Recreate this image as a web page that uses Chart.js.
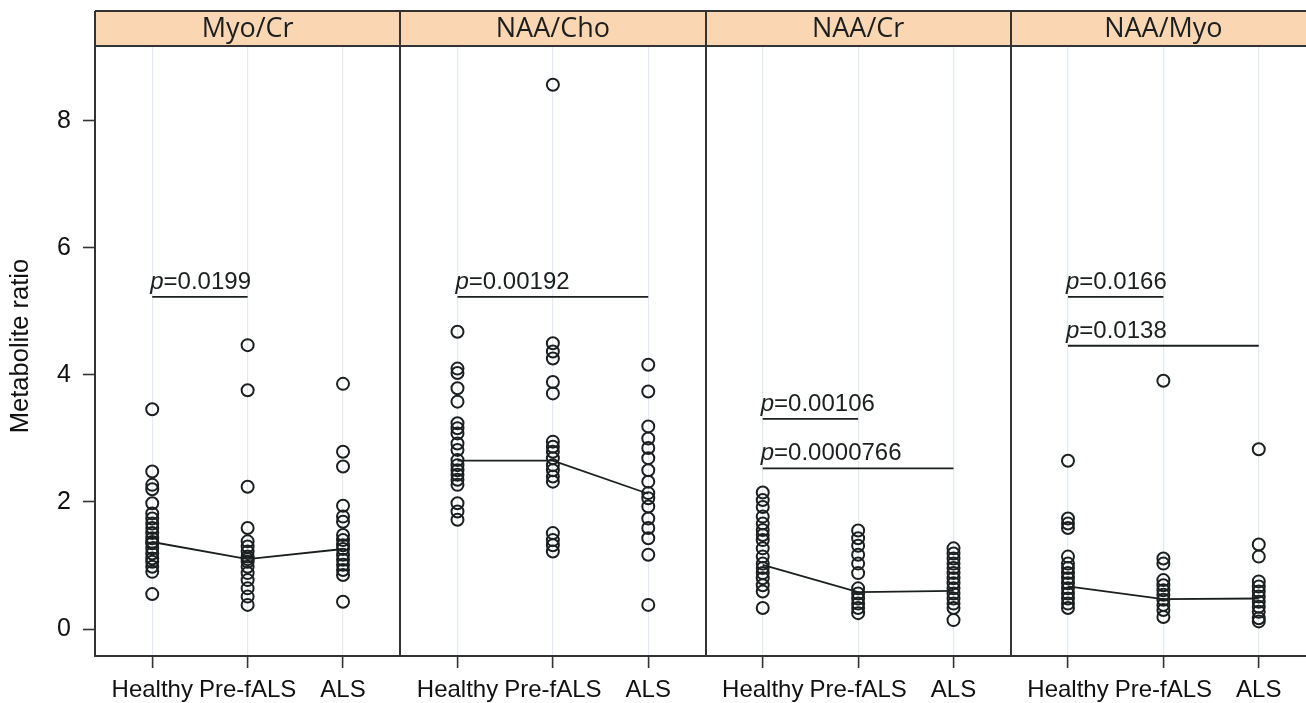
<!DOCTYPE html>
<html><head><meta charset="utf-8">
<script src="https://cdn.jsdelivr.net/npm/chart.js@4/dist/chart.umd.min.js"></script>
<style>
html,body{margin:0;padding:0;background:#fff;overflow:hidden;width:1306px;height:703px}
#wrap{position:absolute;left:0;top:0;width:1306px;height:703px;overflow:hidden}
#c{position:absolute;left:0;top:0}
</style>
</head><body><div id="wrap"><canvas id="c" width="1324" height="703"></canvas></div>
<script>
// ---------- data ----------
const panelTitles = ['Myo/Cr', 'NAA/Cho', 'NAA/Cr', 'NAA/Myo'];
const groups = ['Healthy', 'Pre-fALS', 'ALS'];
const yTicks = [0, 2, 4, 6, 8];

const myoCrHealthy = [3.46, 2.48, 2.27, 2.20, 1.98, 1.82, 1.74, 1.66, 1.59, 1.51, 1.43, 1.37, 1.35, 1.27, 1.19, 1.11, 1.06, 0.98, 0.90, 0.55];
const myoCrPre     = [4.47, 3.76, 2.24, 1.59, 1.38, 1.30, 1.22, 1.14, 1.10, 1.06, 0.98, 0.88, 0.77, 0.64, 0.51, 0.38];
const myoCrALS     = [3.86, 2.79, 2.56, 1.94, 1.77, 1.69, 1.48, 1.40, 1.32, 1.26, 1.17, 1.09, 1.01, 0.93, 0.85, 0.43];
const myoCrMedian  = [1.37, 1.10, 1.26];

const naaChoHealthy = [4.68, 4.10, 4.03, 3.79, 3.58, 3.24, 3.16, 3.08, 2.92, 2.82, 2.66, 2.58, 2.50, 2.43, 2.35, 2.27, 1.98, 1.85, 1.72];
const naaChoPre     = [8.57, 4.50, 4.37, 4.26, 3.89, 3.71, 2.95, 2.87, 2.79, 2.69, 2.58, 2.50, 2.40, 2.32, 1.51, 1.40, 1.32, 1.22];
const naaChoALS     = [4.16, 3.74, 3.19, 3.00, 2.85, 2.69, 2.50, 2.32, 2.14, 2.06, 1.93, 1.74, 1.59, 1.43, 1.17, 0.38];
const naaChoMedian  = [2.65, 2.65, 2.13];

const naaCrHealthy = [2.15, 2.03, 1.92, 1.77, 1.66, 1.56, 1.48, 1.40, 1.27, 1.14, 1.03, 0.96, 0.88, 0.80, 0.69, 0.59, 0.33];
const naaCrPre     = [1.55, 1.43, 1.31, 1.17, 1.03, 0.88, 0.64, 0.56, 0.48, 0.40, 0.33, 0.25];
const naaCrALS     = [1.27, 1.19, 1.11, 1.03, 0.96, 0.88, 0.80, 0.72, 0.64, 0.56, 0.48, 0.40, 0.33, 0.14];
const naaCrMedian  = [1.01, 0.58, 0.60];

const naaMyoHealthy = [2.65, 1.74, 1.66, 1.59, 1.14, 1.03, 0.96, 0.88, 0.80, 0.72, 0.64, 0.56, 0.48, 0.40, 0.33];
const naaMyoPre     = [3.91, 1.11, 1.03, 0.77, 0.69, 0.61, 0.54, 0.46, 0.38, 0.30, 0.19];
const naaMyoALS     = [2.83, 1.33, 1.14, 0.75, 0.67, 0.59, 0.51, 0.43, 0.35, 0.27, 0.17, 0.12];
const naaMyoMedian  = [0.67, 0.47, 0.48];

// p-value annotations
const pPanel = [0, 1, 2, 2, 3, 3];
const pFrom  = [0, 0, 0, 0, 0, 0];
const pTo    = [1, 2, 1, 2, 1, 2];
const pLevel = [5.23, 5.23, 3.31, 2.53, 5.23, 4.46];
const pText  = ['0.0199', '0.00192', '0.00106', '0.0000766', '0.0166', '0.0138'];

// ---------- build ----------
const FONT = "'Liberation Sans', Arial, sans-serif";
const INK = '#1b1f20';
const HEADER = '#fad6b3';
const panelGroups = [
  [myoCrHealthy, myoCrPre, myoCrALS],
  [naaChoHealthy, naaChoPre, naaChoALS],
  [naaCrHealthy, naaCrPre, naaCrALS],
  [naaMyoHealthy, naaMyoPre, naaMyoALS]
];
const panelMedians = [myoCrMedian, naaChoMedian, naaCrMedian, naaMyoMedian];

const datasets = [];
panelGroups.forEach((grp, p) => {
  grp.forEach((vals, g) => {
    datasets.push({
      type: 'line', showLine: false, xAxisID: 'x' + p, yAxisID: 'y',
      data: vals.map(v => ({x: g, y: v})),
      pointRadius: 6, pointBorderWidth: 2, pointBorderColor: INK,
      pointBackgroundColor: 'rgba(0,0,0,0)', borderColor: INK
    });
  });
  datasets.push({
    type: 'line', xAxisID: 'x' + p, yAxisID: 'y',
    data: panelMedians[p].map((v, g) => ({x: g, y: v})),
    borderColor: INK, borderWidth: 1.8, pointRadius: 0, tension: 0
  });
});
pPanel.forEach((p, i) => {
  datasets.push({
    type: 'line', xAxisID: 'x' + p, yAxisID: 'y',
    data: [{x: pFrom[i], y: pLevel[i]}, {x: pTo[i], y: pLevel[i]}],
    borderColor: INK, borderWidth: 1.8, pointRadius: 0
  });
});

const scales = {
  y: {
    type: 'linear', position: 'left', min: -0.425, max: 9.18,
    afterBuildTicks: s => { s.ticks = yTicks.map(v => ({value: v})); },
    afterFit: s => { s.width = 95; },
    grid: {drawOnChartArea: false, drawTicks: true, tickLength: 12, tickColor: '#333', tickWidth: 1.6},
    border: {display: true, color: '#333', width: 2},
    ticks: {font: {family: FONT, size: 25}, color: '#111', padding: 12}
  }
};
panelTitles.forEach((t, p) => {
  scales['x' + p] = {
    type: 'linear', position: 'bottom', stack: 'panels', stackWeight: 1,
    min: -0.6, max: 2.6,
    afterBuildTicks: s => { s.ticks = groups.map((g, i) => ({value: i})); },
    afterFit: s => { s.height = 47; },
    grid: {color: '#e4eaf0', lineWidth: 1.2, drawTicks: true, tickLength: 12, tickColor: '#333', tickWidth: 1.6},
    border: {display: true, color: '#333', width: 2},
    ticks: {font: {family: FONT, size: 24}, color: '#111', padding: 8, maxRotation: 0, autoSkip: false,
            callback: v => groups[v]}
  };
});

const framePlugin = {
  id: 'frame',
  afterDatasetsDraw(chart) {
    const ctx = chart.ctx, ys = chart.scales.y;
    ctx.save();
    ctx.fillStyle = INK;
    ctx.textBaseline = 'alphabetic';
    ctx.textAlign = 'left';
    pPanel.forEach((p, i) => {
      const xs = chart.scales['x' + p];
      const x0 = xs.getPixelForValue(pFrom[i]) - 2;
      const y0 = ys.getPixelForValue(pLevel[i]) - 8;
      ctx.font = 'italic 24px ' + FONT;
      ctx.fillText('p', x0, y0);
      const w = ctx.measureText('p').width;
      ctx.font = '24px ' + FONT;
      ctx.fillText('=' + pText[i], x0 + w, y0);
    });
    ctx.restore();
  },
  afterDraw(chart) {
    const ctx = chart.ctx, ca = chart.chartArea;
    const top = 11;
    ctx.save();
    ctx.fillStyle = HEADER;
    ctx.fillRect(ca.left, top, ca.right - ca.left, ca.top - top);
    ctx.strokeStyle = '#333';
    ctx.lineWidth = 2;
    ctx.beginPath();
    ctx.moveTo(ca.left, top); ctx.lineTo(ca.right, top);
    ctx.moveTo(ca.left, ca.top); ctx.lineTo(ca.right, ca.top);
    ctx.moveTo(ca.left, top); ctx.lineTo(ca.left, ca.bottom);
    ctx.moveTo(ca.right, top); ctx.lineTo(ca.right, ca.bottom);
    for (let p = 1; p < panelTitles.length; p++) {
      const x = Math.round(chart.scales['x' + p].left);
      ctx.moveTo(x, top); ctx.lineTo(x, ca.bottom);
    }
    ctx.stroke();
    ctx.fillStyle = INK;
    ctx.font = "27px 'Open Sans', sans-serif";
    ctx.textAlign = 'center';
    ctx.textBaseline = 'middle';
    panelTitles.forEach((t, p) => {
      const s = chart.scales['x' + p];
      ctx.fillText(t, (s.left + s.right) / 2, (top + ca.top) / 2 + 1);
    });
    // y axis title
    ctx.translate(21, (ca.top + ca.bottom) / 2 - 5);
    ctx.rotate(-Math.PI / 2);
    ctx.font = '25.5px ' + FONT;
    ctx.fillStyle = '#111';
    ctx.fillText('Metabolite ratio', 0, 0);
    ctx.restore();
  }
};

new Chart(document.getElementById('c'), {
  type: 'line',
  data: {datasets},
  options: {
    responsive: false, animation: false,
    layout: {padding: {left: 0, right: 2, top: 46, bottom: 0}},
    plugins: {legend: {display: false}, tooltip: {enabled: false}},
    events: [],
    scales
  },
  plugins: [framePlugin]
});
</script></body></html>
